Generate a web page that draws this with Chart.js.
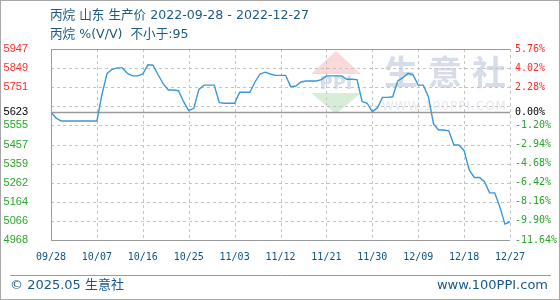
<!DOCTYPE html>
<html>
<head>
<meta charset="utf-8">
<script src="https://cdn.jsdelivr.net/npm/chart.js@4/dist/chart.umd.min.js"></script>
<style>
  html, body { margin: 0; padding: 0; background: #fff; }
  #wrap { width: 560px; height: 300px; }
</style>
</head>
<body>
<div id="wrap"><canvas id="price-chart" width="560" height="300"></canvas></div>
<script>
// Propane, Shandong, producer price (2022-09-28 .. 2022-12-27)

const titleText = '丙烷 山东 生产价 2022-09-28 - 2022-12-27';
const subTitleText = '丙烷 %(V/V)  不小于:95';
const footerLeft = '© 2025.05 生意社';
const footerRight = 'www.100PPI.com';

const basePrice = 5623;
const startDate = '2022-09-28';
const dayCount = 91;

const xTickLabels = ['09/28', '10/07', '10/16', '10/25', '11/03', '11/12', '11/21', '11/30', '12/09', '12/18', '12/27'];

const pctTicks = [5.76, 4.02, 2.28, 0.54, -1.20, -2.94, -4.68, -6.42, -8.16, -9.90, -11.64];
const leftTickLabels = ['5947', '5849', '5751', '', '5555', '5457', '5359', '5262', '5164', '5066', '4968'];
const rightTickLabels = ['5.76%', '4.02%', '2.28%', '', '-1.20%', '-2.94%', '-4.68%', '-6.42%', '-8.16%', '-9.90%', '-11.64%'];

const prices = [
    5623, 5593, 5578, 5578, 5578, 5578, 5578, 5578, 5578, 5578,
    5715, 5822, 5843, 5850, 5850, 5822, 5809, 5809, 5819, 5866,
    5864, 5815, 5769, 5737, 5737, 5733, 5677, 5631, 5643, 5740,
    5762, 5762, 5762, 5672, 5669, 5669, 5669, 5725, 5725, 5725,
    5778, 5819, 5828, 5819, 5812, 5812, 5812, 5754, 5757, 5778,
    5783, 5783, 5783, 5790, 5809, 5809, 5809, 5809, 5792, 5792,
    5790, 5678, 5669, 5626, 5645, 5699, 5699, 5702, 5783, 5800,
    5822, 5814, 5762, 5762, 5703, 5563, 5532, 5532, 5528, 5455,
    5455, 5426, 5327, 5289, 5289, 5267, 5210, 5210, 5139, 5050,
    5062
];

// daily category labels MM/DD
const dates = [];
const d0 = new Date(startDate + 'T00:00:00Z');
for (let i = 0; i < dayCount; i++) {
    const d = new Date(d0.getTime() + i * 86400000);
    dates.push(String(d.getUTCMonth() + 1).padStart(2, '0') + '/' + String(d.getUTCDate()).padStart(2, '0'));
}

const toPrice = p => basePrice * (1 + p / 100);
const yMin = toPrice(pctTicks[pctTicks.length - 1]);
const yMax = toPrice(pctTicks[0]);

const RED = '#ff2a2a', GREEN = '#2aa52a', BLUE = '#0c5486', GRID = '#c4c4c4', FRAME = '#9a9a9a';

function labelColor(value) {
    if (Math.abs(value - basePrice) < 0.5) return '#000';
    return value > basePrice ? RED : GREEN;
}

function yTicks(scale) {
    const t = pctTicks.map(p => ({ value: toPrice(p) }));
    t.push({ value: basePrice });
    scale.ticks = t;
}

function tickIndex(value) {
    return pctTicks.findIndex(p => Math.abs(toPrice(p) - value) < 0.5);
}

const decorPlugin = {
    id: 'decor',
    beforeDatasetsDraw(chart) {
        const { ctx, chartArea: a } = chart;
        const x = chart.scales.x, y = chart.scales.y;
        ctx.save();
        // watermark
        const cx = 336;
        ctx.fillStyle = 'rgba(235,120,120,0.28)';
        ctx.beginPath(); ctx.moveTo(cx, 51); ctx.lineTo(cx + 25, 74); ctx.lineTo(cx - 25, 74); ctx.closePath(); ctx.fill();
        ctx.fillStyle = 'rgba(110,190,110,0.28)';
        ctx.beginPath(); ctx.moveTo(cx - 25, 93); ctx.lineTo(cx + 25, 93); ctx.lineTo(cx, 114); ctx.closePath(); ctx.fill();
        ctx.fillStyle = 'rgba(150,170,200,0.4)';
        ctx.font = 'bold 18px "DejaVu Sans"';
        ctx.textAlign = 'center'; ctx.textBaseline = 'middle';
        ctx.fillText('PPI', cx, 84);
        ctx.fillStyle = 'rgba(165,180,205,0.45)';
        ctx.font = 'bold 34px "Noto Sans CJK SC"';
        ctx.textAlign = 'left';
        ['生', '意', '社'].forEach((c, i) => ctx.fillText(c, 384 + i * 44, 72));
        ctx.fillStyle = 'rgba(185,195,215,0.4)';
        ctx.font = '12px "DejaVu Sans"';
        ctx.letterSpacing = '1px';
        ctx.fillText('WWW.100PPI.COM', 382, 107);
        ctx.letterSpacing = '0px';
        // dashed grid
        ctx.strokeStyle = GRID; ctx.lineWidth = 1;
        ctx.setLineDash([3, 3]);
        ctx.beginPath();
        x.ticks.forEach(t => {
            const px = Math.round(x.getPixelForValue(t.value)) + 0.5;
            ctx.moveTo(px, a.top); ctx.lineTo(px, a.bottom);
        });
        y.ticks.forEach(t => {
            if (Math.abs(t.value - basePrice) < 0.5) return;
            const py = Math.round(y.getPixelForValue(t.value)) + 0.5;
            ctx.moveTo(a.left, py); ctx.lineTo(a.right, py);
        });
        ctx.stroke();
        ctx.setLineDash([]);
        // zero line
        const zy = Math.round(y.getPixelForValue(basePrice)) + 0.5;
        ctx.strokeStyle = FRAME; ctx.lineWidth = 1.3;
        ctx.beginPath(); ctx.moveTo(a.left, zy); ctx.lineTo(a.right, zy); ctx.stroke();
        ctx.restore();
    },
    afterDraw(chart) {
        const { ctx, chartArea: a, width, height } = chart;
        ctx.save();
        // plot frame: left, top, bottom solid
        ctx.strokeStyle = FRAME; ctx.lineWidth = 1;
        const L = Math.round(a.left) + 0.5, T = Math.round(a.top) + 0.5, B = Math.round(a.bottom) + 0.5, R = Math.round(a.right);
        ctx.beginPath();
        ctx.moveTo(R, T); ctx.lineTo(L, T); ctx.lineTo(L, B); ctx.lineTo(R, B);
        ctx.stroke();
        // titles
        ctx.fillStyle = '#1b5a88';
        ctx.font = '12.6px "DejaVu Sans", "Noto Sans CJK SC"';
        ctx.textBaseline = 'middle'; ctx.textAlign = 'left';
        ctx.fillText(titleText, 50, 16);
        ctx.fillText(subTitleText, 50, 35);
        // footer
        ctx.beginPath(); ctx.moveTo(10, 275.5); ctx.lineTo(551, 275.5); ctx.stroke();
        ctx.fillStyle = '#15588e';
        ctx.font = '13px "DejaVu Sans", "Noto Sans CJK SC"';
        ctx.fillText(footerLeft, 10, 286);
        ctx.textAlign = 'right';
        ctx.fillText(footerRight, 548, 286);
        // outer border
        ctx.strokeStyle = '#a8a8a8';
        ctx.strokeRect(0.5, 0.5, width - 1, height - 1);
        ctx.restore();
    }
};

const chartCanvas = document.getElementById('price-chart').getContext('2d');
const priceChart = new Chart(chartCanvas, {
    type: 'line',
    data: {
        labels: dates,
        datasets: [{
            data: prices,
            borderColor: '#3a98d8',
            borderWidth: 1.4,
            pointRadius: 0,
            tension: 0,
            fill: false
        }]
    },
    options: {
        responsive: false,
        animation: false,
        layout: { padding: { top: 49, left: 0, right: 0, bottom: 0 } },
        plugins: { legend: { display: false }, tooltip: { enabled: false } },
        scales: {
            x: {
                type: 'category',
                offset: false,
                afterBuildTicks: s => { s.ticks = s.ticks.filter(t => xTickLabels.includes(dates[t.value])); },
                afterFit: s => { s.height = 60; },
                grid: { display: false, drawTicks: false },
                border: { display: false },
                ticks: {
                    autoSkip: false, maxRotation: 0, padding: 11,
                    color: BLUE, font: { family: '"DejaVu Sans Mono"', size: 10 }
                }
            },
            y: {
                position: 'left',
                min: yMin, max: yMax,
                afterBuildTicks: yTicks,
                afterFit: s => { s.width = 51; },
                grid: { display: false, drawTicks: false },
                border: { display: false },
                ticks: {
                    padding: 23,
                    color: c => labelColor(c.tick.value),
                    font: { family: '"Liberation Sans"', size: 11 },
                    callback: v => { const i = tickIndex(v); return i >= 0 ? leftTickLabels[i] : String(basePrice); }
                }
            },
            y1: {
                position: 'right',
                min: yMin, max: yMax,
                afterBuildTicks: yTicks,
                afterFit: s => { s.width = 50; },
                grid: { display: false, drawTicks: false },
                border: { display: false },
                ticks: {
                    padding: 5,
                    color: c => labelColor(c.tick.value),
                    font: { family: '"DejaVu Sans Mono"', size: 10 },
                    callback: v => { const i = tickIndex(v); return i >= 0 ? rightTickLabels[i] : '0.00%'; }
                }
            }
        }
    },
    plugins: [decorPlugin]
});
</script>
</body>
</html>
